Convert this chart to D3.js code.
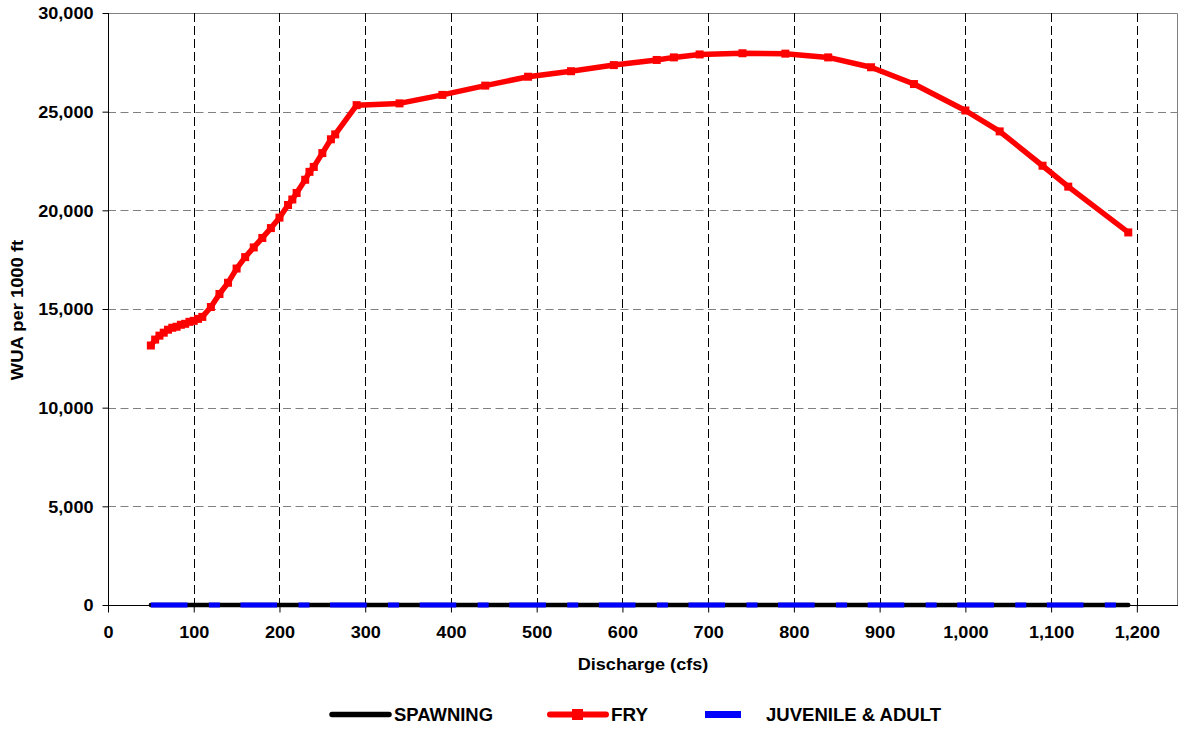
<!DOCTYPE html>
<html>
<head>
<meta charset="utf-8">
<script src="https://cdn.jsdelivr.net/npm/d3@7"></script>
<style>
  body { margin: 0; background: #fff; }
  text { font-family: "Liberation Sans", Arial, sans-serif; font-weight: bold; fill: #000; }
</style>
</head>
<body>
<svg id="chart" width="1180" height="730"></svg>
<script>
// Discharge (cfs) at each modelled flow
const discharge = [50, 55, 60, 65, 70, 75, 80, 85, 90, 95, 100, 105, 110, 120, 130, 140, 150, 160, 170, 180,
  190, 200, 210, 215, 220, 230, 235, 240, 250, 260, 265, 290, 340, 390, 440, 490, 540, 590, 640, 660,
  690, 740, 790, 840, 890, 940, 1000, 1040, 1090, 1120, 1190];

// Weighted usable area per 1000 ft, by life stage
const fry = [13150, 13450, 13650, 13800, 13950, 14050, 14100, 14200, 14250, 14350, 14400, 14500, 14600, 15100, 15760, 16330, 17050, 17630, 18120, 18600,
  19100, 19630, 20270, 20550, 20880, 21550, 21950, 22200, 22900, 23600, 23850, 25330, 25420, 25850, 26320, 26770, 27050, 27360, 27620, 27750,
  27900, 27960, 27940, 27750, 27250, 26400, 25060, 24000, 22260, 21200, 18880];
const spawning = [0, 0, 0, 0, 0, 0, 0, 0, 0, 0, 0, 0, 0, 0, 0, 0, 0, 0, 0, 0,
  0, 0, 0, 0, 0, 0, 0, 0, 0, 0, 0, 0, 0, 0, 0, 0, 0, 0, 0, 0,
  0, 0, 0, 0, 0, 0, 0, 0, 0, 0, 0];
const juvenileAdult = [0, 0, 0, 0, 0, 0, 0, 0, 0, 0, 0, 0, 0, 0, 0, 0, 0, 0, 0, 0,
  0, 0, 0, 0, 0, 0, 0, 0, 0, 0, 0, 0, 0, 0, 0, 0, 0, 0, 0, 0,
  0, 0, 0, 0, 0, 0, 0, 0, 0, 0, 0];

const xTicks = [0, 100, 200, 300, 400, 500, 600, 700, 800, 900, 1000, 1100, 1200];
const yTicks = [0, 5000, 10000, 15000, 20000, 25000, 30000];
const seriesNames = ["SPAWNING", "FRY", "JUVENILE & ADULT"];

const plot = { left: 108, top: 13, right: 1178, bottom: 605 };
const svg = d3.select("#chart");

const x = d3.scaleLinear().domain([0, 1248]).range([plot.left, plot.right]);
const y = d3.scaleLinear().domain([0, 30000]).range([plot.bottom, plot.top]);
const fmt = d3.format(",");
const wide = 1.13; // horizontal stretch of the label face

// Frame (top and right edges)
svg.append("path")
  .attr("d", `M${plot.left},${plot.top + 0.5}H${plot.right - 0.5}V${plot.bottom}`)
  .attr("fill", "none").attr("stroke", "#808080").attr("stroke-width", 1);

// Horizontal gridlines
svg.append("g").selectAll("line").data(yTicks.filter(d => d > 0 && d < 30000)).join("line")
  .attr("x1", plot.left).attr("x2", plot.right)
  .attr("y1", d => Math.round(y(d)) + 0.5).attr("y2", d => Math.round(y(d)) + 0.5)
  .attr("stroke", "#808080").attr("stroke-dasharray", "8,4.5");

// Vertical gridlines
svg.append("g").selectAll("line").data(xTicks.filter(d => d > 0)).join("line")
  .attr("x1", d => Math.round(x(d)) + 0.5).attr("x2", d => Math.round(x(d)) + 0.5)
  .attr("y1", plot.top).attr("y2", plot.bottom)
  .attr("stroke", "#000").attr("stroke-dasharray", "9,4");

// Axes
const xAxis = svg.append("g").attr("transform", `translate(0,${plot.bottom + 0.5})`)
  .call(d3.axisBottom(x).tickValues(xTicks).tickFormat(fmt).tickSize(7).tickSizeOuter(0));
xAxis.select(".domain").remove();
xAxis.append("line").attr("x1", plot.left).attr("x2", plot.right).attr("stroke", "#000");
xAxis.selectAll(".tick line").attr("stroke", "#000");
xAxis.selectAll(".tick text").attr("dy", null).attr("y", 33).attr("font-size", 16)
  .attr("transform", `scale(${wide},1)`);

const yAxis = svg.append("g").attr("transform", `translate(${plot.left + 0.5},0)`)
  .call(d3.axisLeft(y).tickValues(yTicks).tickFormat(fmt).tickSize(6).tickSizeOuter(0));
yAxis.select(".domain").remove();
yAxis.append("line").attr("y1", plot.top).attr("y2", plot.bottom + 7).attr("stroke", "#000");
yAxis.selectAll(".tick line").attr("stroke", "#000");
yAxis.selectAll(".tick text").attr("x", -15 / wide).attr("dy", "0.36em").attr("font-size", 16)
  .attr("transform", `scale(${wide},1)`);
svg.selectAll(".tick text").style("font-family", '"Liberation Sans", Arial, sans-serif').style("font-weight", "bold");

// Axis titles
svg.append("text").attr("transform", `translate(643,670) scale(${wide},1)`).attr("text-anchor", "middle")
  .attr("font-size", 16).text("Discharge (cfs)");
svg.append("text").attr("transform", "translate(23,310) rotate(-90) scale(1.15,1)").attr("text-anchor", "middle")
  .attr("font-size", 16).text("WUA per 1000 ft");

// Series
const line = vals => d3.line().x((d, i) => x(discharge[i])).y(d => y(d))(vals);

svg.append("path").attr("d", line(spawning))
  .attr("fill", "none").attr("stroke", "#000").attr("stroke-width", 4.5).attr("stroke-linecap", "round");
svg.append("path").attr("d", line(juvenileAdult))
  .attr("fill", "none").attr("stroke", "#0000ff").attr("stroke-width", 5)
  .attr("stroke-dasharray", "36.6,21.4,11,20.6");
svg.append("path").attr("d", line(fry))
  .attr("fill", "none").attr("stroke", "#ff0000").attr("stroke-width", 5.5).attr("stroke-linejoin", "round");
svg.append("g").selectAll("rect").data(fry).join("rect")
  .attr("x", (d, i) => x(discharge[i]) - 4).attr("y", d => y(d) - 4)
  .attr("width", 8).attr("height", 8).attr("fill", "#ff0000");

// Legend
const lg = svg.append("g");
const ly = 714.5;
lg.append("line").attr("x1", 332).attr("x2", 389).attr("y1", ly).attr("y2", ly)
  .attr("stroke", "#000").attr("stroke-width", 5.5).attr("stroke-linecap", "round");
lg.append("text").attr("x", 394).attr("y", ly).attr("dy", "0.36em").attr("font-size", 19)
  .attr("textLength", 99).attr("lengthAdjust", "spacingAndGlyphs").text(seriesNames[0]);
lg.append("line").attr("x1", 550).attr("x2", 606).attr("y1", ly).attr("y2", ly)
  .attr("stroke", "#ff0000").attr("stroke-width", 6).attr("stroke-linecap", "round");
lg.append("rect").attr("x", 572).attr("y", ly - 5.5).attr("width", 11).attr("height", 11).attr("fill", "#ff0000");
lg.append("text").attr("x", 611).attr("y", ly).attr("dy", "0.36em").attr("font-size", 19)
  .attr("textLength", 37).attr("lengthAdjust", "spacingAndGlyphs").text(seriesNames[1]);
lg.append("line").attr("x1", 705).attr("x2", 741).attr("y1", ly).attr("y2", ly)
  .attr("stroke", "#0000ff").attr("stroke-width", 7);
lg.append("text").attr("x", 766).attr("y", ly).attr("dy", "0.36em").attr("font-size", 19)
  .attr("textLength", 175).attr("lengthAdjust", "spacingAndGlyphs").text(seriesNames[2]);
</script>
</body>
</html>
